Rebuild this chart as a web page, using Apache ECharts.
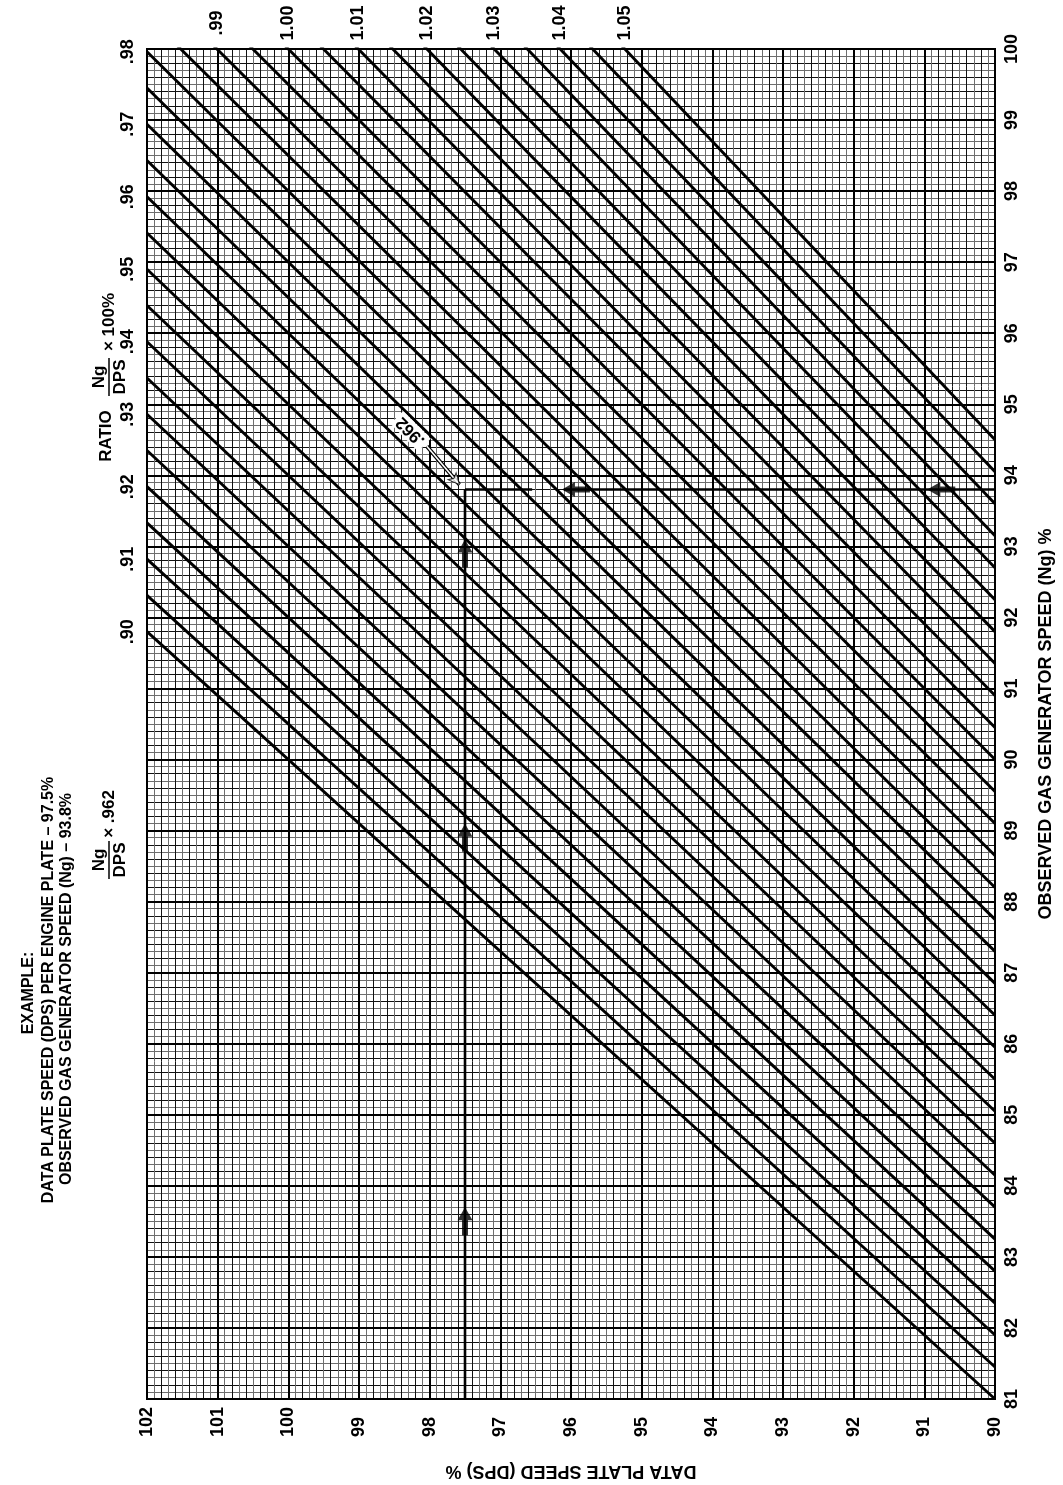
<!DOCTYPE html>
<html><head><meta charset="utf-8">
<script src="https://cdn.jsdelivr.net/npm/echarts@6/dist/echarts.min.js"></script>
<style>html,body{margin:0;padding:0;background:#fff}#c{width:1063px;height:1485px}</style>
</head><body><div id="c"></div>
<script>
// ---- data ----
const DPS_TICKS = [90,91,92,93,94,95,96,97,98,99,100,101,102];
const NG_TICKS = [81,82,83,84,85,86,87,88,89,90,91,92,93,94,95,96,97,98,99,100];
const RATIOS = [0.900,0.905,0.910,0.915,0.920,0.925,0.930,0.935,0.940,0.945,0.950,0.955,0.960,0.965,0.970,0.975,0.980,0.985,0.990,0.995,1.000,1.005,1.010,1.015,1.020,1.025,1.030,1.035,1.040,1.045,1.050];
const LEFT_LABEL_RATIOS = [0.90,0.91,0.92,0.93,0.94,0.95,0.96,0.97,0.98];
const LEFT_LABEL_TEXT = ['.90','.91','.92','.93','.94','.95','.96','.97','.98'];
const TOP_LABEL_RATIOS = [0.99,1.00,1.01,1.02,1.03,1.04,1.05];
const TOP_LABEL_TEXT = ['.99','1.00','1.01','1.02','1.03','1.04','1.05'];
const EX_DPS = 97.5, EX_NG = 93.8, EX_RATIO_TEXT = '.962';
const UP_ARROWS_NG = [83.5, 88.9, 92.9];
const LEFT_ARROWS_DPS = [95.93, 90.76];
const H_SEG1 = [97.5, 96.55];
const H_SEG2 = [96.1, 90];
const LEADER_FROM = [98.04, 94.41], LEADER_TO = [97.58, 93.87];
const RATIO_LABEL_POS = [98.27, 94.62];

const FONT = "'Liberation Sans', Arial, sans-serif";
const DPS_MIN = DPS_TICKS[0], DPS_MAX = DPS_TICKS[DPS_TICKS.length-1];
const NG_MIN = NG_TICKS[0], NG_MAX = NG_TICKS[NG_TICKS.length-1];

const chart = echarts.init(document.getElementById('c'), null, {renderer:'canvas'});
const ARROW = 'path://M7.5,0 L15,13 L10.5,13 L10.5,28 L4.5,28 L4.5,13 L0,13 Z';

const series = [];
RATIOS.forEach(r => {
  series.push({type:'line', data:[[DPS_MIN, r*DPS_MIN],[DPS_MAX, r*DPS_MAX]], symbol:'none', silent:true,
    lineStyle:{color:'#000', width:2.9}, z:3, clip:true, animation:false});
});
// example path
series.push({type:'line', data:[[EX_DPS, NG_MIN],[EX_DPS, EX_NG]], symbol:'none', silent:true, lineStyle:{color:'#000', width:2.6}, z:4, animation:false});
series.push({type:'line', data:[[H_SEG1[0], EX_NG],[H_SEG1[1], EX_NG]], symbol:'none', silent:true, lineStyle:{color:'#000', width:2.6}, z:4, animation:false});
series.push({type:'line', data:[[H_SEG2[0], EX_NG],[H_SEG2[1], EX_NG]], symbol:'none', silent:true, lineStyle:{color:'#000', width:2.6}, z:4, animation:false});
// arrows
series.push({type:'scatter', symbol:ARROW, symbolSize:[15,28], itemStyle:{color:'#000'}, silent:true, z:5, animation:false,
  data: UP_ARROWS_NG.map(n => ({value:[EX_DPS, n], symbolRotate:0})).concat(
        LEFT_ARROWS_DPS.map(d => ({value:[d, EX_NG], symbolRotate:90})))});
// leader line for .962
series.push({type:'line', data:[LEADER_FROM, LEADER_TO], symbol:'none', silent:true, lineStyle:{color:'#000', width:4}, z:6, animation:false});
series.push({type:'line', data:[LEADER_FROM, LEADER_TO], symbol:'none', silent:true, lineStyle:{color:'#fff', width:1.6}, z:7, animation:false});
series.push({type:'scatter', symbol:'arrow', symbolSize:[8,11], itemStyle:{color:'#fff', borderColor:'#000', borderWidth:1}, silent:true, z:8, animation:false,
  data:[{value:LEADER_TO, symbolRotate:-139}]});

const axisLabelStyle = {color:'#000', fontSize:18, fontWeight:'bold', fontFamily:FONT};
const option = {
  animation:false,
  backgroundColor:'#fff',
  grid:{left:147, top:49, right:64, bottom:83, show:true, borderColor:'#000', borderWidth:2, backgroundColor:'transparent'},
  xAxis:[
    {type:'value', min:DPS_MIN, max:DPS_MAX, interval:1, inverse:true, position:'bottom', z:2,
     name:'DATA PLATE SPEED (DPS) %', nameLocation:'middle', nameGap:63, nameRotate:180,
     nameTextStyle:{color:'#000', fontSize:18, fontWeight:'bold', fontFamily:FONT},
     axisLine:{show:true, lineStyle:{color:'#000', width:2}}, axisTick:{show:false},
     axisLabel:Object.assign({rotate:90, align:'left', verticalAlign:'middle', margin:38}, axisLabelStyle),
     splitLine:{show:true, lineStyle:{color:'#000', width:2}}},
    {type:'value', min:DPS_MIN, max:DPS_MAX, interval:0.1, inverse:true, position:'top', z:1,
     axisLine:{show:false}, axisTick:{show:false}, axisLabel:{show:false},
     splitLine:{show:true, lineStyle:{color:['#111','#6e6e6e'], width:1}}}
  ],
  yAxis:[
    {type:'value', min:NG_MIN, max:NG_MAX, interval:1, position:'right', z:2,
     name:'OBSERVED GAS GENERATOR SPEED (Ng) %', nameLocation:'middle', nameGap:42, nameRotate:90,
     nameTextStyle:{color:'#000', fontSize:18, fontWeight:'bold', fontFamily:FONT},
     axisLine:{show:true, lineStyle:{color:'#000', width:2}}, axisTick:{show:false},
     axisLabel:Object.assign({rotate:90, margin:8}, axisLabelStyle),
     splitLine:{show:true, lineStyle:{color:'#000', width:2}}},
    {type:'value', min:NG_MIN, max:NG_MAX, interval:0.1, position:'left', z:1,
     axisLine:{show:false}, axisTick:{show:false}, axisLabel:{show:false},
     splitLine:{show:true, lineStyle:{color:['#111','#6e6e6e'], width:1}}}
  ],
  series: series
};
chart.setOption(option);

// ---- text overlays positioned through the chart's own scales ----
function vtext(x, y, text, size, weight, rot, extra) {
  const st = Object.assign({text:text, fill:'#000', font: weight+' '+size+'px '+FONT, align:'center', verticalAlign:'middle'}, extra||{});
  return {type:'text', x:x, y:y, rotation:(rot==null?Math.PI/2:rot), style:st, silent:true, z:100};
}
const px = v => chart.convertToPixel({seriesIndex:0}, v);
const g = [];
LEFT_LABEL_RATIOS.forEach((r,i) => {
  const p = px([DPS_MAX, r*DPS_MAX]);
  g.push(vtext(p[0]-19, p[1], LEFT_LABEL_TEXT[i], 18, 'bold'));
});
TOP_LABEL_RATIOS.forEach((r,i) => {
  const p = px([NG_MAX/r, NG_MAX]);
  g.push(vtext(p[0], p[1]-26, TOP_LABEL_TEXT[i], 18, 'bold'));
});
// .962 label
const lp = px(RATIO_LABEL_POS);
g.push(vtext(lp[0], lp[1], EX_RATIO_TEXT, 17, 'bold', Math.PI*3/4, {backgroundColor:'#fff', padding:[1,3,0,3]}));

// RATIO block
g.push(vtext(106, 436, 'RATIO', 17, 'bold'));
g.push(vtext(99, 377, 'Ng', 17, 'bold'));
g.push(vtext(120, 377, 'DPS', 17, 'bold'));
g.push({type:'line', shape:{x1:109, y1:358, x2:109, y2:396}, style:{stroke:'#000', lineWidth:1.5}, silent:true, z:100});
g.push(vtext(109, 322, '× 100%', 17, 'bold'));

// EXAMPLE block
g.push(vtext(29, 993, 'EXAMPLE:', 16, 'bold'));
g.push(vtext(49, 990, 'DATA PLATE SPEED (DPS) PER ENGINE PLATE – 97.5%', 16, 'bold'));
g.push(vtext(67, 989, 'OBSERVED GAS GENERATOR SPEED (Ng) – 93.8%', 16, 'bold'));
g.push(vtext(99, 860, 'Ng', 17, 'bold'));
g.push(vtext(120, 860, 'DPS', 17, 'bold'));
g.push({type:'line', shape:{x1:109, y1:841, x2:109, y2:879}, style:{stroke:'#000', lineWidth:1.5}, silent:true, z:100});
g.push(vtext(109, 814, '× .962', 17, 'bold'));

chart.setOption({graphic:{elements:g}});
</script>
</body></html>
